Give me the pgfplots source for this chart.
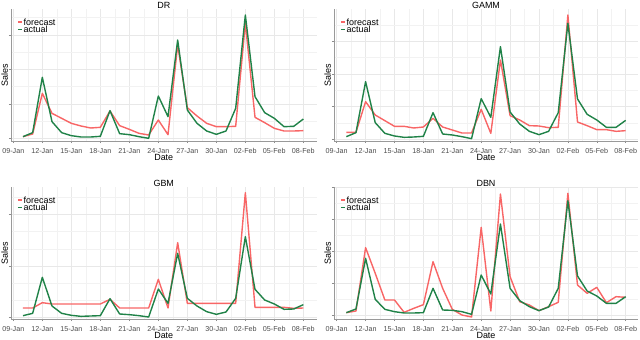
\documentclass[border=0pt]{standalone}
\usepackage{fontspec}
\setmainfont{Liberation Sans}
\usepackage{pgfplots}
\usepackage{pgfplotstable}
\pgfplotsset{compat=1.18}
\definecolor{fcst}{RGB}{248,102,102}
\definecolor{actl}{RGB}{32,130,72}

% columns: day, forecast, actual (sales, arbitrary units)
\pgfplotstableread{
d f a
1 13 13
2 21 25
3 143 191
4 83 58
5 68 25
6 53 16
7 45 12
8 39 12
9 41 14
10 90 91
11 46 22
12 35 19
13 23 13
14 18 8
15 63 135
16 19 73
17 288 303
18 100 93
19 75 53
20 53 30
21 43 20
22 43 30
23 44 98
24 353 378
25 71 133
26 55 85
27 38 68
28 30 43
29 30 44
30 31 66
}\dr
\pgfplotstableread{
d f a
1 26 13
2 26 25
3 118 178
4 78 55
5 61 23
6 44 15
7 44 11
8 39 12
9 42 14
10 68 85
11 42 21
12 33 18
13 24 13
14 24 7
15 95 127
16 23 71
17 243 283
18 76 87
19 63 51
20 46 29
21 45 19
22 40 29
23 41 85
24 378 353
25 57 126
26 46 80
27 34 63
28 34 41
29 29 41
30 31 62
}\gamm
\pgfplotstableread{
d f a
1 33 10
2 33 17
3 49 125
4 45 39
5 45 17
6 45 11
7 45 8
8 45 9
9 45 10
10 59 61
11 33 15
12 33 13
13 33 10
14 33 6
15 119 90
16 33 47
17 229 197
18 47 62
19 47 39
20 47 22
21 47 14
22 47 21
23 47 62
24 379 247
25 35 89
26 35 57
27 35 45
28 35 29
29 32 30
30 33 43
}\gbm
\pgfplotstableread{
d f a
1 19 19
2 24 30
3 214 182
4 137 59
5 57 29
6 57 22
7 20 18
8 32 18
9 43 19
10 172 92
11 92 27
12 29 26
13 12 22
14 6 14
15 275 132
16 24 75
17 375 285
18 127 92
19 52 55
20 42 37
21 25 25
22 37 36
23 50 92
24 377 355
25 102 129
26 77 84
27 95 69
28 49 47
29 67 47
30 65 67
}\dbn

\pgfplotsset{
  panel/.style={
    scale only axis, anchor=south west, height=132bp,
    ymin=0, ymax=396,
    axis x line*=bottom, axis y line*=left,
    axis line style={black!40, line width=0.6bp, -},
    xtick={0,3,...,30},
    xticklabels={09-Jan,12-Jan,15-Jan,18-Jan,21-Jan,24-Jan,27-Jan,30-Jan,02-Feb,05-Feb,08-Feb},
    minor x tick num=1,
    yticklabels={},
    grid=both,
    major grid style={black!9, line width=0.5bp},
    minor grid style={black!5, line width=0.35bp},
    tick align=outside, major tick length=2.2bp, minor tick length=0pt,
    tick style={black!45, line width=0.5bp},
    xticklabel style={font=\fontsize{7.2}{8}\selectfont, text=black!70, inner sep=0pt,
      text height=5.2bp, text depth=0pt, yshift=-4.5bp},
    title style={font=\fontsize{9}{10}\selectfont, at={(axis description cs:0.5,1)},
      anchor=center, yshift=-2bp, inner sep=0pt, text height=6.4bp, text depth=0pt},
    xlabel={Date}, ylabel={Sales},
    every axis x label/.style={at={(axis description cs:0.5,-0.125)}, anchor=center,
      font=\fontsize{9}{10}\selectfont},
    every axis y label/.style={at={(axis description cs:-0.021,0.5)}, rotate=90, anchor=center,
      font=\fontsize{9}{10}\selectfont},
    legend style={draw=none, fill=none, at={(axis description cs:0,1)}, anchor=north west,
      xshift=6bp, yshift=-9bp, font=\fontsize{9}{9}\selectfont, inner sep=0pt, row sep=0pt,
      nodes={inner sep=0.5bp, text height=6.4bp, text depth=0.3bp}},
    legend cell align=left,
    legend image code/.code={\draw[#1] (0bp,0bp) -- (4.5bp,0bp);},
    every axis plot/.append style={line width=1.4bp, mark=none, line join=round},
  },
  left col/.style={panel, width=305.5bp, xmin=-0.24, xmax=31.36},
  right col/.style={panel, width=304bp, xmin=-0.28, xmax=31.28},
}

\begin{document}
\begin{tikzpicture}
\useasboundingbox (0,0) rectangle (640bp,340bp);

\begin{axis}[left col, at={(11bp,199bp)}, title={DR},
  ytick={8,111.5,215,318.5}, minor ytick={60,163,267,371}]
\addplot[fcst] table[x=d, y=f] {\dr};
\addplot[actl] table[x=d, y=a] {\dr};
\legend{forecast,actual}
\end{axis}

\begin{axis}[right col, at={(334bp,199bp)}, title={GAMM},
  ytick={5,103,201,299,397}, minor ytick={54,152,250,348}]
\addplot[fcst] table[x=d, y=f] {\gamm};
\addplot[actl] table[x=d, y=a] {\gamm};
\legend{forecast,actual}
\end{axis}

\begin{axis}[left col, at={(11bp,21bp)}, title={GBM},
  ytick={4,159,314}, minor ytick={55.7,107.3,210.7,262.3,365.7}]
\addplot[fcst] table[x=d, y=f] {\gbm};
\addplot[actl] table[x=d, y=a] {\gbm};
\legend{forecast,actual}
\end{axis}

\begin{axis}[right col, at={(334bp,21bp)}, title={DBN},
  ytick={12,107,204,300,396}, minor ytick={60,156,252,348}]
\addplot[fcst] table[x=d, y=f] {\dbn};
\addplot[actl] table[x=d, y=a] {\dbn};
\legend{forecast,actual}
\end{axis}
\end{tikzpicture}
\end{document}
